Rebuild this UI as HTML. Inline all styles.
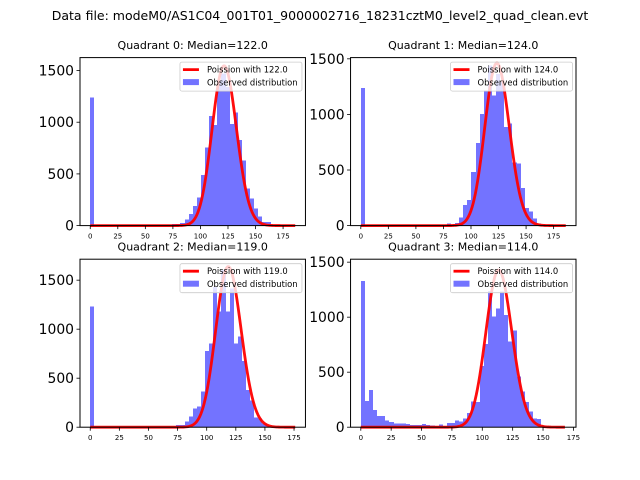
<!DOCTYPE html>
<html><head><meta charset="utf-8"><style>
body{margin:0;background:#fff}
svg{display:block;font-family:"DejaVu Sans","Liberation Sans",sans-serif}
</style></head><body>
<svg id="c" width="640" height="480" xmlns="http://www.w3.org/2000/svg">
<rect width="640" height="480" fill="#fff"/>
<text x="320" y="20" font-size="12.5" text-anchor="middle">Data file: modeM0/AS1C04_001T01_9000002716_18231cztM0_level2_quad_clean.evt</text>
</svg>
<script>
const titles=["Quadrant 0: Median=122.0","Quadrant 1: Median=124.0","Quadrant 2: Median=119.0","Quadrant 3: Median=114.0"];
const medians=[122,124,119,114];
const dataMax=[186,186,176,168.7];
const yMax=[1625,1511,1714,1527];
const poissonPeak=[1545,1461,1638,1429];
const q0Counts=[1237,0,0,0,0,0,0,0,0,0,0,0,0,0,0,0,0,0,0,0,15,15,25,60,112,190,273,490,757,1060,973,1408,1473,1343,983,1092,828,628,360,264,167,86,37,37,5,3,3,3,3,3];
const q1Counts=[1237,0,0,0,0,0,0,0,0,0,0,0,0,0,0,0,0,0,0,0,0,20,10,25,75,187,232,483,745,1002,1213,1440,1168,1364,1291,887,917,567,558,338,157,126,66,20,12,5,5,3,0,0];
const q2Counts=[1230,0,0,0,0,0,0,0,0,0,0,0,0,0,0,0,0,0,0,0,0,20,20,56,107,193,210,362,778,856,1428,1178,1604,1178,1417,856,923,675,380,270,97,90,40,10,3,0,0,0,0,0];
const q3Counts=[1329,238,338,156,102,102,59,45,35,35,35,30,20,20,20,30,20,15,12,25,10,40,40,59,50,78,130,232,230,556,756,1240,1005,1081,1232,1020,780,880,459,323,230,141,81,75,10,3,0,0,0,0];
const counts=[q0Counts,q1Counts,q2Counts,q3Counts];
const xTicks=[0,25,50,75,100,125,150,175];
const yTicks=[0,500,1000,1500];

const svg=document.getElementById('c');
const NS="http://www.w3.org/2000/svg";
function mk(t,a,p){const e=document.createElementNS(NS,t);for(const k in a)e.setAttribute(k,a[k]);(p||svg).appendChild(e);return e;}
function lgam(n){let s=0;for(let i=2;i<=n;i++)s+=Math.log(i);return s;}
function pmf(k,m){return Math.exp(k*Math.log(m)-m-lgam(k));}
const W=225.45,H=168;
const lefts=[80,350.55,80,350.55],tops=[57.6,57.6,259.2,259.2];
for(let q=0;q<4;q++){
  const L=lefts[q],T=tops[q],B=T+H,D=dataMax[q];
  const x0=-0.05*D,x1=1.05*D;
  const sx=v=>L+(v-x0)/(x1-x0)*W;
  const sy=v=>B-v/yMax[q]*H;
  const g=mk('g',{});
  
  
  const n=counts[q].length,bw=D/n;
  const bars=mk('g',{'shape-rendering':'crispEdges'},g);
  
  
  counts[q].forEach((c,i)=>{
    if(c<=0)return;
    const xa=Math.round(sx(i*bw)),xb=Math.round(sx((i+1)*bw));
    const r=mk('rect',{x:xa,y:sy(c),width:xb-xa,height:B-sy(c),fill:'#0000ff','fill-opacity':0.55},bars);
    
    
  });
  const m=medians[q],pm=pmf(Math.floor(m),m);
  let d='';
  for(let k=0;k<=Math.floor(D);k++){const v=poissonPeak[q]*pmf(k,m)/pm;d+=(k?'L':'M')+sx(k).toFixed(2)+','+sy(v).toFixed(2);}
  const pl=mk('path',{d:d,fill:'none',stroke:'#ff0000','stroke-width':2.8,'stroke-opacity':0.95,'stroke-linejoin':'round'},g);
  
  
  const fr=mk('rect',{x:L,y:T,width:W,height:H,fill:'none',stroke:'#000','stroke-width':1},g);
  
  
  xTicks.forEach(t=>{
    if(t>x1)return;
    const x=sx(t);
    mk('line',{x1:x,x2:x,y1:B,y2:B+3.5,stroke:'#000','stroke-width':0.8},g);
    const tx=mk('text',{x:x,y:B+13,'font-size':7,'text-anchor':'middle'},g);
    tx.textContent=t;
    
    
  });
  yTicks.forEach(t=>{
    if(t>yMax[q])return;
    const y=sy(t);
    mk('line',{x1:L-3.5,x2:L,y1:y,y2:y,stroke:'#000','stroke-width':0.8},g);
    const tx=mk('text',{x:L-6,y:y+5,'font-size':13.9,'text-anchor':'end'},g);
    tx.textContent=t;
    
    
  });
  const ti=mk('text',{x:L+W/2,y:T-8.5,'font-size':11,'text-anchor':'middle'},g);
  ti.textContent=titles[q];
  
  
  const lx=L+W-125.5,ly=T+4.5;
  const lg=mk('g',{},g);
  
  
  mk('rect',{x:lx,y:ly,width:122,height:29,fill:'#fff','fill-opacity':0.8,stroke:'#ccc','stroke-width':0.8,rx:2},lg);
  mk('line',{x1:lx+3,x2:lx+19,y1:ly+7.5,y2:ly+7.5,stroke:'#ff0000','stroke-width':2.8},lg);
  mk('rect',{x:lx+3,y:ly+17,width:16,height:6,fill:'#0000ff','fill-opacity':0.55},lg);
  const t1=mk('text',{x:lx+27,y:ly+10.5,'font-size':8.4},lg);
  t1.textContent='Poission with '+medians[q].toFixed(1);
  
  
  const t2=mk('text',{x:lx+27,y:ly+23.5,'font-size':8.4},lg);
  t2.textContent='Observed distribution';
  
  
}
</script>
</body></html>
